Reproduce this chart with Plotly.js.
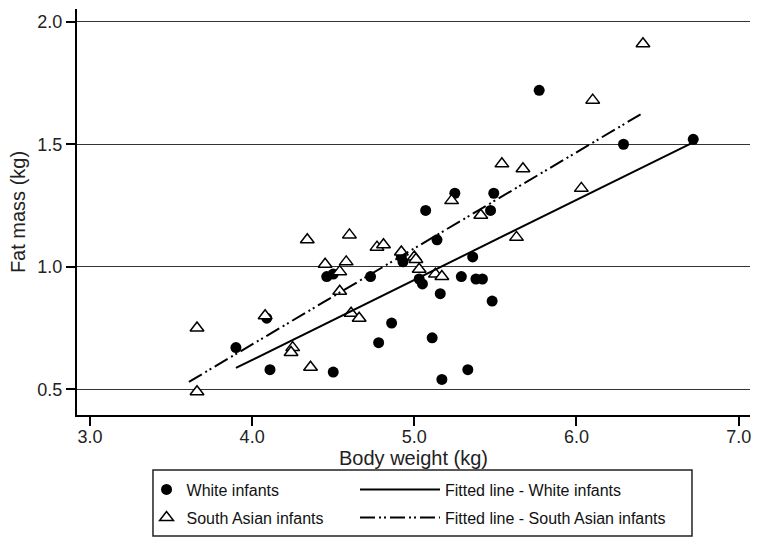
<!DOCTYPE html>
<html>
<head>
<meta charset="utf-8">
<script src="https://cdn.plot.ly/plotly-3.0.1.min.js"></script>
<style>
	body { margin: 0; background: #fff; }
	#chart { width: 760px; height: 540px; }
</style>
</head>
<body>
<div id="chart"></div>
<script>
// body weight (kg) and fat mass (kg)
const whiteWeight = [3.90, 4.09, 4.11, 4.46, 4.50, 4.73, 4.50, 4.78, 4.86, 4.92, 4.93, 5.03, 5.05, 5.07, 5.11,
	5.14, 5.16, 5.17, 5.25, 5.29, 5.33, 5.36, 5.38, 5.42, 5.47, 5.49, 5.48, 5.77, 6.29, 6.72]
const whiteFat = [0.67, 0.79, 0.58, 0.96, 0.97, 0.96, 0.57, 0.69, 0.77, 1.04, 1.02, 0.95, 0.93, 1.23, 0.71,
	1.11, 0.89, 0.54, 1.30, 0.96, 0.58, 1.04, 0.95, 0.95, 1.23, 1.30, 0.86, 1.72, 1.50, 1.52]

const asianWeight = [3.66, 3.66, 4.08, 4.25, 4.24, 4.36, 4.34, 4.45, 4.54, 4.58, 4.60, 4.54, 4.61, 4.66, 4.77,
	4.81, 4.92, 5.00, 5.01, 5.03, 5.13, 5.17, 5.23, 5.41, 5.54, 5.67, 5.63, 6.03, 6.10, 6.41]
const asianFat = [0.75, 0.49, 0.80, 0.67, 0.65, 0.59, 1.11, 1.01, 0.98, 1.02, 1.13, 0.90, 0.81, 0.79, 1.08,
	1.09, 1.06, 1.04, 1.03, 0.99, 0.97, 0.96, 1.27, 1.21, 1.42, 1.40, 1.12, 1.32, 1.68, 1.91]

// fitted line end points
const whiteFitX = [3.90, 6.72]
const whiteFitY = [0.587, 1.508]
const asianFitX = [3.61, 6.40]
const asianFitY = [0.53, 1.624]

const yTicks = [0.5, 1.0, 1.5, 2.0]
const xTicks = [3, 4, 5, 6, 7]

let traces = [
	{
		x: whiteWeight,
		y: whiteFat,
		name: 'White infants',
		legend: 'legend',
		type: 'scatter',
		mode: 'markers',
		marker: {symbol: 'circle', size: 11, color: '#000'},
	},
	{
		x: asianWeight,
		y: asianFat,
		name: 'South Asian infants',
		legend: 'legend2',
		type: 'scatter',
		mode: 'markers',
		marker: {symbol: 'triangle-up', size: 12, color: '#fff', line: {color: '#000', width: 1.5}},
	},
	{
		x: whiteFitX,
		y: whiteFitY,
		name: 'Fitted line - White infants',
		legend: 'legend3',
		type: 'scatter',
		mode: 'lines',
		line: {color: '#000', width: 2},
	},
	{
		x: asianFitX,
		y: asianFitY,
		name: 'Fitted line - South Asian infants',
		legend: 'legend4',
		type: 'scatter',
		mode: 'lines',
		line: {color: '#000', width: 2, dash: '15px,4px,2px,3px,2px,4px'},
	},
]

let font = {family: 'Liberation Sans, Arial, sans-serif', color: '#222'}

// one small legend per entry so the 2x2 key can be laid out like the original
function legendAt(x, y, itemwidth) {
	return {
		orientation: 'h',
		xref: 'container',
		yref: 'container',
		x: x,
		y: y,
		xanchor: 'left',
		yanchor: 'top',
		itemwidth: itemwidth,
		bgcolor: 'rgba(0,0,0,0)',
		borderwidth: 0,
		font: {size: 16, color: '#111'},
	}
}

Plotly.newPlot('chart', traces, {
	width: 760,
	height: 540,
	margin: {l: 77, r: 10, t: 9, b: 125},
	paper_bgcolor: '#fff',
	plot_bgcolor: '#fff',
	font: font,
	showlegend: true,
	xaxis: {
		range: [2.92, 7.07],
		tickvals: xTicks,
		ticktext: xTicks.map(v => v.toFixed(1)),
		ticks: 'outside',
		ticklen: 9,
		tickwidth: 1.5,
		tickcolor: '#000',
		ticklabelstandoff: -5,
		showline: true,
		linecolor: '#000',
		linewidth: 2,
		showgrid: false,
		zeroline: false,
		tickfont: {size: 18, color: '#222'},
		title: {text: 'Body weight (kg)', font: {size: 20, color: '#222'}, standoff: 0},
	},
	yaxis: {
		range: [0.395, 2.052],
		tickvals: yTicks,
		ticktext: yTicks.map(v => v.toFixed(1)),
		ticks: 'outside',
		ticklen: 9,
		tickwidth: 1.5,
		tickcolor: '#000',
		showline: true,
		linecolor: '#000',
		linewidth: 2,
		showgrid: true,
		gridcolor: '#333',
		gridwidth: 1,
		zeroline: false,
		tickfont: {size: 18, color: '#222'},
		title: {text: 'Fat mass (kg)', font: {size: 20, color: '#222'}, standoff: 6},
	},
	legend: legendAt(0.1928, 0.125, 30),
	legend2: legendAt(0.1928, 0.073, 30),
	legend3: legendAt(0.4671, 0.125, 80),
	legend4: legendAt(0.4671, 0.073, 80),
	shapes: [
		// legend frame
		{
			type: 'rect',
			xref: 'paper',
			yref: 'paper',
			x0: 0.1129,
			x1: 0.9138,
			y0: -0.1355,
			y1: -0.298,
			line: {color: '#222', width: 1.5},
		},
	],
}, {displayModeBar: false})
</script>
</body>
</html>
